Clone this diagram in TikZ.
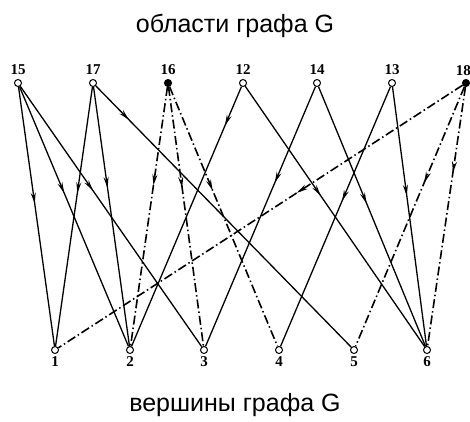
\documentclass[tikz,border=0pt]{standalone}
\usepackage{fontspec}
\setmainfont{Liberation Sans}
\newfontfamily\numfont{Liberation Serif}
\usepackage{tikz}
\usetikzlibrary{
  shapes.geometric,
  arrows.meta,
  positioning, calc,
  decorations.markings
}
\tikzset{
  regionnode/.style={circle,draw=black,fill=white,line width=1pt,
    minimum size=7pt,inner sep=0pt},
  outernode/.style={regionnode,fill=black},
  vertexnode/.style={regionnode},
  numlabel/.style={font=\numfont\bfseries\fontsize{15}{15}\selectfont,inner sep=1pt},
  captext/.style={font=\fontsize{25}{25}\selectfont,anchor=base},
  edgeline/.style={line width=1.3pt,color=black},
  dashline/.style={edgeline,line width=1.6pt,
    dash pattern=on 9pt off 3pt on 1.5pt off 3pt},
  midarrow/.style={postaction={decorate},decoration={markings,
    mark=at position #1 with {\arrow{Stealth[length=11pt,width=5pt]}}}},
  midarrow/.default=0.4
}

\begin{document}
\begin{tikzpicture}[x=1pt,y=1pt]
  \useasboundingbox (0,0) rectangle (470,421);
  % regions (top row)
  \node[regionnode] (r15) at (18,338) {};
  \node[regionnode] (r17) at (93,338) {};
  \node[outernode]  (r16) at (168,338) {};
  \node[regionnode] (r12) at (243,338) {};
  \node[regionnode] (r14) at (317,338) {};
  \node[regionnode] (r13) at (392,338) {};
  \node[outernode]  (r18) at (466,338) {};
  \node[numlabel,above=3pt of r15] (l15) {15};
  \node[numlabel,above=3pt of r17] (l17) {17};
  \node[numlabel,above=3pt of r16] (l16) {16};
  \node[numlabel,above=3pt of r12] (l12) {12};
  \node[numlabel,above=3pt of r14] (l14) {14};
  \node[numlabel,above=3pt of r13] (l13) {13};
  \node[numlabel,above=3pt of r18.north west,anchor=south east,xshift=9pt] (l18) {18};
  % vertices (bottom row)
  \node[vertexnode] (v1) at (55,71) {};
  \node[vertexnode] (v2) at (130,71) {};
  \node[vertexnode] (v3) at (204,71) {};
  \node[vertexnode] (v4) at (279,71) {};
  \node[vertexnode] (v5) at (354,71) {};
  \node[vertexnode] (v6) at (427,71) {};
  \node[numlabel,below=1pt of v1] (l1) {1};
  \node[numlabel,below=1pt of v2] (l2) {2};
  \node[numlabel,below=1pt of v3] (l3) {3};
  \node[numlabel,below=1pt of v4] (l4) {4};
  \node[numlabel,below=1pt of v5] (l5) {5};
  \node[numlabel,below=1pt of v6] (l6) {6};
  % captions
  \node[captext] (top) at (235,388) {области графа G};
  \node[captext] (bot) at (235,10) {вершины графа G};
  % incidences
  \draw[edgeline,midarrow=0.45] (r15) -- (v1);
  \draw[edgeline,midarrow=0.41] (r15) -- (v2);
  \draw[edgeline,midarrow=0.40] (r15) -- (v3);
  \draw[edgeline,midarrow=0.41] (r17) -- (v1);
  \draw[edgeline,midarrow=0.39] (r17) -- (v2);
  \draw[edgeline,midarrow=0.13] (r17) -- (v5);
  \draw[dashline,midarrow=0.38] (r16) -- (v2);
  \draw[dashline,midarrow=0.39] (r16) -- (v3);
  \draw[dashline,midarrow=0.40] (r16) -- (v4);
  \draw[edgeline,midarrow=0.15] (r12) -- (v2);
  \draw[edgeline,midarrow=0.42] (r12) -- (v6);
  \draw[edgeline,midarrow=0.37] (r14) -- (v3);
  \draw[edgeline,midarrow=0.45] (r14) -- (v6);
  \draw[edgeline,midarrow=0.44] (r13) -- (v4);
  \draw[edgeline,midarrow=0.42] (r13) -- (v6);
  \draw[dashline,midarrow=0.41] (r18) -- (v1);
  \draw[dashline,midarrow=0.37] (r18) -- (v5);
  \draw[dashline,midarrow=0.33] (r18) -- (v6);
\end{tikzpicture}
\end{document}
